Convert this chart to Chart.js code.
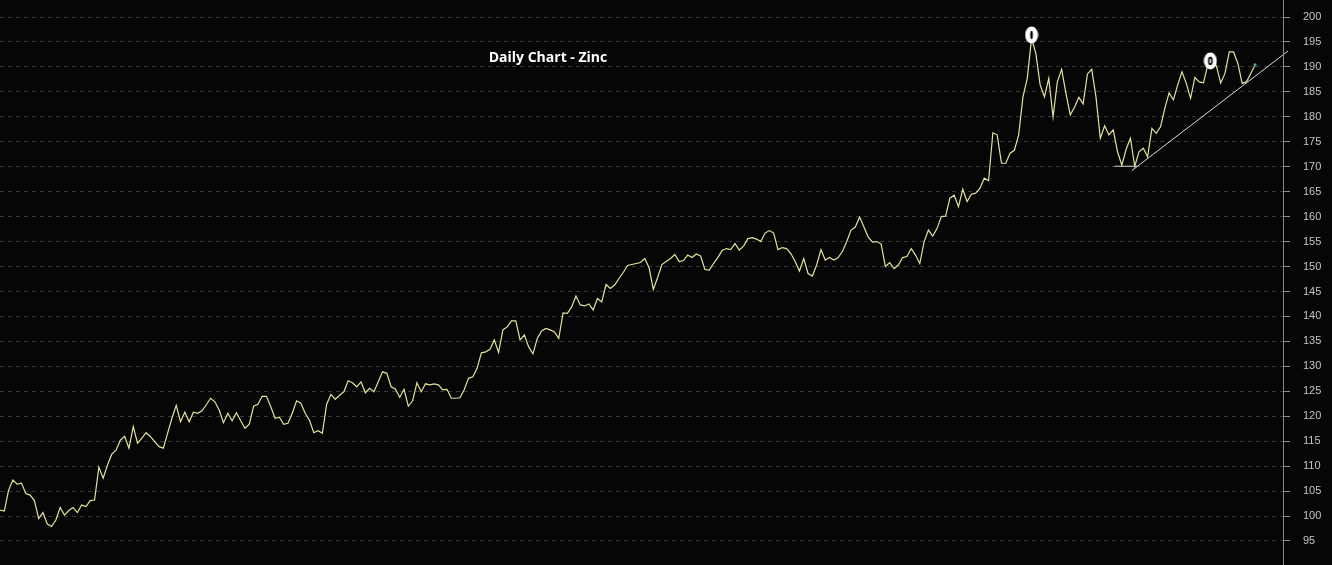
<!DOCTYPE html>
<html>
<head>
<meta charset="utf-8">
<script src="https://cdn.jsdelivr.net/npm/chart.js@4.4.1/dist/chart.umd.min.js"></script>
<style>
  html, body { margin: 0; padding: 0; background: #060606; }
  #wrap { width: 1332px; height: 565px; position: relative; }
</style>
</head>
<body>
<div id="wrap"><canvas id="c"></canvas></div>
<script>
// ---- Data (daily Zinc closes) ----
const zinc = [
  101.2, 101.0, 105.2, 107.2, 106.4, 106.6, 104.5, 104.2, 103.1, 99.5,
  100.7, 98.4, 97.9, 99.2, 101.7, 100.2, 101.1, 101.7, 100.7, 102.2,
  101.9, 103.1, 103.2, 109.8, 107.6, 110.2, 112.4, 113.2, 115.2, 116.0,
  113.6, 117.9, 114.6, 115.6, 116.7, 115.9, 114.9, 113.9, 113.6, 116.6,
  119.6, 122.2, 118.9, 120.8, 118.9, 120.8, 120.6, 121.1, 122.3, 123.6,
  122.9, 121.2, 118.7, 120.6, 119.1, 120.7, 119.1, 117.6, 118.4, 122.0,
  122.4, 124.0, 124.0, 121.9, 119.6, 119.8, 118.4, 118.6, 120.6, 123.1,
  122.6, 120.6, 119.2, 116.7, 117.1, 116.6, 122.4, 124.4, 123.4, 124.2,
  124.9, 127.1, 126.7, 125.9, 126.9, 124.7, 125.6, 124.9, 126.9, 128.9,
  128.6, 125.9, 125.4, 123.8, 125.4, 122.0, 123.1, 126.7, 124.9, 126.5,
  126.3, 126.5, 126.3, 125.3, 125.4, 123.6, 123.6, 123.7, 125.3, 127.6,
  127.9, 129.6, 132.7, 132.9, 133.4, 135.3, 132.8, 137.3, 137.9, 139.1,
  139.1, 135.3, 136.3, 133.9, 132.5, 135.6, 137.1, 137.6, 137.3, 136.9,
  135.6, 140.7, 140.6, 141.9, 144.1, 142.3, 142.1, 142.5, 141.3, 143.6,
  142.9, 146.4, 145.6, 146.3, 147.6, 148.8, 150.2, 150.4, 150.6, 150.8,
  151.6, 149.8, 145.4, 147.8, 150.4, 151.0, 151.6, 152.4, 151.0, 151.2,
  152.3, 151.8, 152.5, 152.1, 149.4, 149.3, 150.6, 151.8, 153.2, 153.6,
  153.4, 154.6, 153.3, 154.1, 155.6, 155.8, 155.5, 155.0, 156.7, 157.2,
  156.7, 153.4, 153.8, 153.6, 152.6, 151.0, 149.1, 151.6, 148.6, 148.1,
  150.3, 153.4, 151.3, 151.8, 151.3, 151.8, 153.0, 155.0, 157.3, 157.9,
  159.9, 157.9, 155.9, 154.9, 155.0, 154.5, 150.0, 150.8, 149.6, 150.3,
  151.8, 152.0, 153.6, 152.3, 150.6, 155.0, 157.3, 156.1, 157.6, 160.0,
  160.1, 163.7, 164.3, 162.0, 165.5, 163.0, 164.5, 164.7, 165.7, 167.7,
  167.2, 176.8, 176.4, 170.7, 170.7, 172.7, 173.3, 176.4, 184.0, 187.7,
  195.7, 192.7, 186.4, 184.0, 187.7, 180.0, 187.0, 189.5, 184.7, 180.4,
  181.9, 183.9, 182.6, 188.6, 189.5, 183.9, 175.7, 178.2, 176.4, 177.4,
  173.0, 170.3, 173.5, 175.7, 170.1, 173.0, 173.7, 172.0, 177.7, 176.7,
  178.0, 181.7, 184.8, 183.4, 186.4, 189.0, 186.7, 183.7, 187.9, 187.0,
  186.8, 190.4, 190.8, 190.2, 186.8, 188.7, 193.0, 193.0, 190.7, 186.7,
  187.0, 188.7, 190.4
];
const days = zinc.map((_, i) => i);          // trading-day index (categories)

// annotations (day index, price)
const markerDays   = [240, 281.6];
const markerPrices = [196.4, 191.2];
const supportDays   = [259.3, 264.6];
const supportPrices = [170.1, 170.1];
const trendDays   = [263.3, 299.7];
const trendPrices = [169.2, 193.2];

const yTicks = [95,100,105,110,115,120,125,130,135,140,145,150,155,160,165,170,175,180,185,190,195,200];
const chartTitle = 'Daily Chart - Zinc';

// ---- marker glyphs ----
function makeMarker(innerW) {
  const cv = document.createElement('canvas');
  cv.width = 14; cv.height = 18;
  const g = cv.getContext('2d');
  g.fillStyle = '#ffffff';
  g.beginPath(); g.ellipse(7, 9, 6.5, 8.5, 0, 0, Math.PI * 2); g.fill();
  g.strokeStyle = '#000000'; g.lineWidth = 1.6;
  g.beginPath(); g.ellipse(7, 9, innerW, 3.4, 0, 0, Math.PI * 2); g.stroke();
  return cv;
}
const markerImgs = [makeMarker(0.5), makeMarker(1.6)];

const titlePlugin = {
  id: 'titleText',
  afterDraw(chart) {
    const ctx = chart.ctx;
    ctx.save();
    ctx.font = 'bold 14px "Open Sans", "DejaVu Sans", sans-serif';
    ctx.fillStyle = '#ffffff';
    ctx.textAlign = 'center';
    ctx.textBaseline = 'middle';
    ctx.fillText(chartTitle, 548, 58);
    ctx.restore();
  }
};
const axisLinePlugin = {
  id: 'axisLine',
  afterDatasetsDraw(chart) {
    const s = chart.scales.y;
    const ctx = chart.ctx;
    ctx.save();
    ctx.strokeStyle = '#8a8a8a';
    ctx.lineWidth = 1;
    ctx.beginPath();
    ctx.moveTo(s.left + 0.5, 0);
    ctx.lineTo(s.left + 0.5, chart.height);
    ctx.stroke();
    ctx.restore();
  }
};
const bgPlugin = {
  id: 'bg',
  beforeDraw(chart) {
    const ctx = chart.ctx;
    ctx.save();
    ctx.fillStyle = '#060606';
    ctx.fillRect(0, 0, chart.width, chart.height);
    ctx.restore();
  }
};

const lastIdx = zinc.length - 1;

new Chart(document.getElementById('c'), {
  type: 'line',
  data: {
    datasets: [
      {
        label: 'Zinc',
        data: days.map((d, i) => ({ x: d, y: zinc[i] })),
        borderColor: '#e2e29e',
        borderWidth: 1.2,
        pointRadius: ctx => (ctx.dataIndex === lastIdx ? 1.6 : 0),
        pointBackgroundColor: '#3fa6a0',
        pointBorderColor: '#3fa6a0',
        pointBorderWidth: 0,
        tension: 0,
        order: 3
      },
      {
        label: 'Support',
        data: supportDays.map((d, i) => ({ x: d, y: supportPrices[i] })),
        borderColor: '#d8d8d8',
        borderWidth: 1,
        pointRadius: 0,
        order: 2
      },
      {
        label: 'Trend',
        data: trendDays.map((d, i) => ({ x: d, y: trendPrices[i] })),
        borderColor: '#d8d8d8',
        borderWidth: 1,
        pointRadius: 0,
        clip: false,
        order: 2
      },
      {
        label: 'Markers',
        data: markerDays.map((d, i) => ({ x: d, y: markerPrices[i] })),
        showLine: false,
        pointStyle: markerImgs,
        pointRadius: 8,
        clip: false,
        order: 1
      }
    ]
  },
  options: {
    responsive: true,
    maintainAspectRatio: false,
    animation: false,
    layout: { padding: 0, autoPadding: false },
    plugins: { legend: { display: false }, tooltip: { enabled: false }, title: { display: false } },
    scales: {
      x: {
        type: 'linear',
        display: false,
        min: 0,
        max: 298.5,
        ticks: { display: false }
      },
      y: {
        position: 'right',
        min: 90.19,
        max: 203.41,
        afterBuildTicks(s) { s.ticks = yTicks.map(v => ({ value: v })); },
        afterFit(s) { s.width = 49; s.paddingTop = 0; s.paddingBottom = 0; },
        grid: {
          color: '#3a3a3a',
          lineWidth: 1,
          tickLength: 7,
          tickColor: '#8a8a8a',
          tickBorderDash: []
        },
        border: { display: false, dash: [4, 4] },
        ticks: {
          color: '#c4c4c4',
          padding: 13,
          font: { family: '"Liberation Sans", Arial, sans-serif', size: 11 },
          callback: v => String(v)
        }
      }
    }
  },
  plugins: [bgPlugin, axisLinePlugin, titlePlugin]
});
</script>
</body>
</html>
